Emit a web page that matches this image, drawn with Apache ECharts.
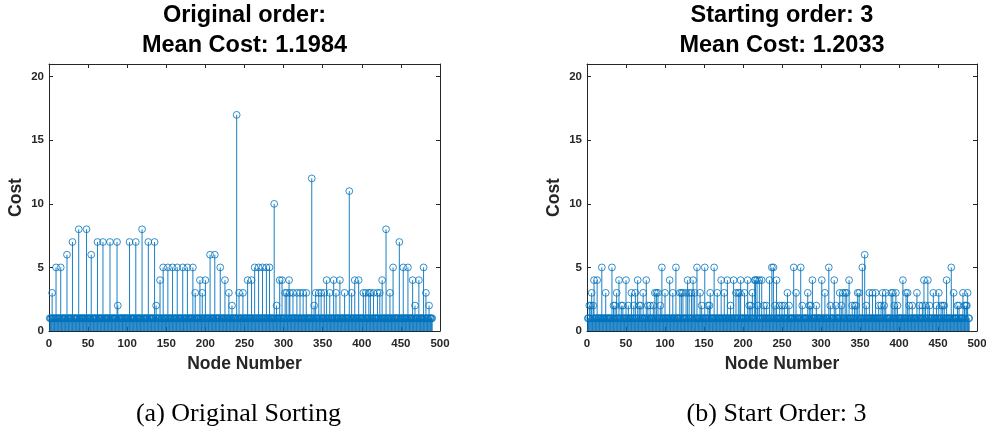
<!DOCTYPE html>
<html><head><meta charset="utf-8">
<script src="https://cdn.jsdelivr.net/npm/echarts@6/dist/echarts.min.js"></script>
<style>html,body{margin:0;padding:0;background:#fff}#c{width:986px;height:435px}</style>
</head><body><div id="c"></div>
<script>
// ---- data ----
const nodeCount = 490;      // nodes 1..490
const baseCost = 1;         // every node not listed below has cost 1
const titlesA = ['Original order:', 'Mean Cost: 1.1984'];
const titlesB = ['Starting order: 3', 'Mean Cost: 1.2033'];
const captionA = '(a) Original Sorting';
const captionB = '(b) Start Order: 3';
const xTickLabels = [0, 50, 100, 150, 200, 250, 300, 350, 400, 450, 500];
const yTickLabels = [0, 5, 10, 15, 20];
const xName = 'Node Number';
const yName = 'Cost';

const highNodesA = [4, 9, 15, 23, 30, 38, 48, 54, 62, 69, 78, 87, 88, 103, 111, 119, 127, 135, 137, 142,
  146, 152, 158, 164, 171, 177, 184, 187, 193, 196, 200, 206, 212, 219, 225, 230, 234, 240, 243, 248,
  254, 259, 263, 268, 273, 278, 282, 288, 291, 295, 298, 302, 304, 307, 308, 312, 317, 321, 325, 329,
  336, 339, 341, 345, 348, 352, 355, 359, 364, 367, 372, 378, 384, 387, 391, 396, 402, 405, 409, 411,
  415, 420, 423, 426, 431, 436, 440, 448, 453, 459, 465, 468, 473, 479, 482, 486];
const highCostsA = [3, 5, 5, 6, 7, 8, 8, 6, 7, 7, 7, 7, 2, 7, 7, 8, 7, 7, 2, 4,
  5, 5, 5, 5, 5, 5, 5, 3, 4, 3, 4, 6, 6, 5, 4, 3, 2, 17, 3, 3,
  4, 4, 5, 5, 5, 5, 5, 10, 2, 4, 4, 3, 3, 4, 3, 3, 3, 3, 3, 3,
  12, 2, 3, 3, 3, 3, 4, 3, 4, 3, 4, 3, 11, 3, 4, 4, 3, 3, 3, 3,
  3, 3, 3, 4, 8, 3, 5, 7, 5, 5, 4, 2, 4, 5, 3, 2];

const highNodesB = [3, 5, 6, 8, 9, 13, 19, 24, 32, 34, 36, 38, 41, 44, 46, 50, 53, 57, 60, 62,
  65, 67, 69, 72, 76, 78, 81, 85, 87, 89, 91, 94, 96, 100, 106, 110, 114, 119, 121, 123,
  127, 129, 131, 134, 136, 138, 141, 145, 147, 151, 155, 157, 158, 163, 167, 172, 176, 180, 184, 188,
  191, 194, 196, 197, 202, 206, 208, 210, 212, 215, 216, 218, 219, 221, 224, 227, 230, 234, 237, 239,
  241, 243, 247, 250, 253, 257, 259, 265, 268, 274, 276, 283, 285, 287, 289, 294, 301, 305, 310, 312,
  317, 319, 324, 326, 328, 331, 333, 336, 340, 343, 345, 347, 349, 353, 356, 358, 362, 366, 370, 374,
  377, 379, 381, 383, 390, 392, 394, 396, 398, 405, 409, 411, 413, 417, 423, 426, 430, 432, 434, 437,
  439, 444, 448, 451, 454, 456, 458, 461, 467, 470, 475, 477, 482, 484, 486, 487, 488];
const highCostsB = [2, 2, 3, 2, 4, 4, 5, 3, 5, 2, 2, 3, 4, 2, 2, 4, 2, 3, 2, 3,
  4, 2, 2, 3, 4, 2, 2, 2, 3, 3, 3, 2, 5, 3, 4, 3, 5, 3, 3, 3,
  3, 4, 3, 3, 4, 3, 5, 3, 2, 5, 2, 2, 3, 5, 3, 4, 3, 4, 2, 4,
  3, 3, 3, 4, 3, 4, 2, 2, 3, 4, 4, 4, 2, 4, 4, 2, 2, 4, 5, 5,
  2, 4, 2, 2, 2, 3, 2, 5, 3, 5, 2, 3, 2, 2, 4, 2, 4, 3, 5, 2,
  4, 2, 3, 2, 3, 3, 3, 4, 2, 2, 2, 3, 3, 5, 6, 2, 3, 3, 3, 2,
  2, 3, 2, 3, 3, 3, 2, 3, 2, 4, 3, 3, 2, 2, 3, 2, 2, 4, 2, 4,
  2, 3, 2, 3, 2, 2, 2, 4, 5, 3, 2, 2, 3, 2, 2, 2, 3];

// ---- build series tables ----
function buildSeries(nodes, costs) {
  const out = [];
  for (let n = 1; n <= nodeCount; n++) {
    const k = nodes.indexOf(n);
    out.push([n, k >= 0 ? costs[k] : baseCost]);
  }
  return out;
}
const dataA = buildSeries(highNodesA, highCostsA);
const dataB = buildSeries(highNodesB, highCostsB);

const BLUE = '#0072BD';
const AXC = '#262626';
const SANS = '"Liberation Sans", Arial, Helvetica, sans-serif';
const SERIF = '"Liberation Serif", "Times New Roman", serif';

const grids = [
  { left: 49, top: 64, width: 391, height: 267, outerBoundsMode: 'none' },
  { left: 587, top: 64, width: 390, height: 267, outerBoundsMode: 'none' }
];

const axisLine = { show: true, onZero: false, lineStyle: { color: AXC, width: 1 } };
const axisTick = { show: true, inside: true, length: 4, lineStyle: { color: AXC, width: 1 } };
const labelStyle = { color: AXC, fontSize: 11.5, fontWeight: 'bold', fontFamily: SANS };

const xAxes = [], yAxes = [];
[0, 1].forEach(g => {
  xAxes.push({
    type: 'value', gridIndex: g, position: 'bottom', min: 0, max: 500, interval: 50,
    axisLine, axisTick, splitLine: { show: false },
    axisLabel: Object.assign({ margin: 7, formatter: v => xTickLabels.includes(v) ? String(v) : '' }, labelStyle),
    name: xName, nameLocation: 'middle', nameGap: 22,
    nameTextStyle: { color: AXC, fontSize: 17.5, fontWeight: 'bold', fontFamily: SANS }
  });
  xAxes.push({
    type: 'value', gridIndex: g, position: 'top', min: 0, max: 500, interval: 50,
    axisLine, axisTick, splitLine: { show: false }, axisLabel: { show: false }
  });
  yAxes.push({
    type: 'value', gridIndex: g, position: 'left', min: 0, max: 21, interval: 5,
    axisLine, axisTick, splitLine: { show: false },
    axisLabel: Object.assign({ margin: 5, showMaxLabel: false,
      formatter: v => yTickLabels.includes(v) ? String(v) : '' }, labelStyle),
    name: yName, nameLocation: 'middle', nameGap: 24, nameRotate: 90,
    nameTextStyle: { color: AXC, fontSize: 17.5, fontWeight: 'bold', fontFamily: SANS }
  });
  yAxes.push({
    type: 'value', gridIndex: g, position: 'right', min: 0, max: 21, interval: 5,
    axisLine, axisTick, splitLine: { show: false }, axisLabel: { show: false }
  });
});

function renderStem(params, api) {
  const x = api.value(0), y = api.value(1);
  const p0 = api.coord([x, 0]);
  const p1 = api.coord([x, y]);
  return {
    type: 'group',
    children: [
      { type: 'line', shape: { x1: p0[0], y1: p0[1], x2: p1[0], y2: p1[1] },
        style: { stroke: BLUE, lineWidth: 0.9 } },
      { type: 'circle', shape: { cx: p1[0], cy: p1[1], r: 3.4 },
        style: { fill: 'none', stroke: BLUE, lineWidth: 0.8 } }
    ]
  };
}

function textEl(x, y, txt, font) {
  return { type: 'text', x: x, y: y, silent: true,
    style: { text: txt, font: font, fill: '#000', align: 'center', verticalAlign: 'middle',
      textAlign: 'center', textVerticalAlign: 'middle' } };
}
const titleFont = 'bold 23.5px ' + SANS;
const capFont = '26px ' + SERIF;

const option = {
  animation: false,
  backgroundColor: '#fff',
  grid: grids,
  xAxis: xAxes,
  yAxis: yAxes,
  series: [
    { type: 'custom', xAxisIndex: 0, yAxisIndex: 0, data: dataA, renderItem: renderStem,
      encode: { x: 0, y: 1 }, clip: false },
    { type: 'custom', xAxisIndex: 2, yAxisIndex: 2, data: dataB, renderItem: renderStem,
      encode: { x: 0, y: 1 }, clip: false }
  ],
  graphic: [
    textEl(244.5, 15.5, titlesA[0], titleFont),
    textEl(244.5, 46, titlesA[1], titleFont),
    textEl(782, 15.5, titlesB[0], titleFont),
    textEl(782, 46, titlesB[1], titleFont),
    textEl(238.5, 414, captionA, capFont),
    textEl(776.5, 414, captionB, capFont)
  ]
};

const chart = echarts.init(document.getElementById('c'), null, { renderer: 'canvas' });
chart.setOption(option);
</script>
</body></html>
